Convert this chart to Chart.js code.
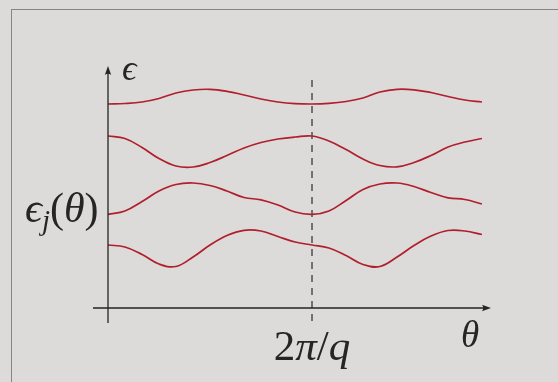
<!DOCTYPE html>
<html>
<head>
<meta charset="utf-8">
<script src="https://cdn.jsdelivr.net/npm/chart.js@4/dist/chart.umd.min.js"></script>
<style>
  html, body { margin: 0; padding: 0; background: #dcdbda; }
  canvas { display: block; }
</style>
</head>
<body>
<canvas id="bands" width="558" height="382"></canvas>
<script>
// Quasi-momentum theta, in units of the period 2π/q
const theta = [0, 0.083, 0.167, 0.25, 0.333, 0.417, 0.5, 0.583, 0.667, 0.75, 0.833, 0.917,
               1, 1.083, 1.167, 1.25, 1.333, 1.417, 1.5, 1.583, 1.667, 1.75, 1.833];

// Band energies epsilon_j(theta), arbitrary units (0 on the theta axis)
const band4 = [20.4, 20.45, 20.6, 20.95, 21.5, 21.8, 21.87, 21.67, 21.3, 20.9, 20.6, 20.44,
               20.4, 20.46, 20.65, 21.0, 21.6, 21.87, 21.82, 21.55, 21.15, 20.8, 20.6];
const band3 = [17.2, 16.95, 16.05, 14.95, 14.2, 14.1, 14.55, 15.25, 16.0, 16.55, 16.9, 17.1,
               17.2, 16.7, 15.85, 14.9, 14.25, 14.12, 14.55, 15.25, 16.1, 16.6, 16.95];
const band2 = [9.37, 9.7, 10.65, 11.7, 12.35, 12.5, 12.25, 11.7, 11.05, 10.82, 10.3, 9.6,
               9.37, 9.7, 10.75, 11.85, 12.4, 12.5, 12.15, 11.55, 11.02, 10.85, 10.4];
const band1 = [6.3, 6.1, 5.35, 4.4, 4.15, 5.1, 6.3, 7.25, 7.77, 7.7, 7.15, 6.6,
               6.3, 6.0, 5.25, 4.35, 4.15, 5.1, 6.25, 7.2, 7.75, 7.7, 7.35];

const bands = [band4, band3, band2, band1];

// Axis labels and the single marked theta value
const periodTick = 1;
const periodLabel = [['2', 'up'], ['π', 'it'], ['/', 'up'], ['q', 'it']];
const thetaLabel = 'θ';
const epsLabel = 'ϵ';

const BG = '#dcdbda';
const INK = '#252525';
const BAND_COLOR = '#b01f2b';

const SERIF = '"Liberation Serif", "DejaVu Serif", serif';

function drawRuns(ctx, runs, x, y, align) {
  // runs: [text, style, size, dy]
  let total = 0;
  runs.forEach(r => {
    ctx.font = (r[1] === 'it' ? 'italic ' : '') + r[2] + 'px ' + SERIF;
    total += ctx.measureText(r[0]).width;
  });
  let cx = align === 'center' ? x - total / 2 : x;
  runs.forEach(r => {
    ctx.font = (r[1] === 'it' ? 'italic ' : '') + r[2] + 'px ' + SERIF;
    ctx.fillText(r[0], cx, y + (r[3] || 0));
    cx += ctx.measureText(r[0]).width;
  });
}

function arrowHead(ctx, tipX, tipY, dir) {
  // dir: 'up' or 'right'
  const L = 9, W = 3.2;
  ctx.beginPath();
  if (dir === 'up') {
    ctx.moveTo(tipX, tipY);
    ctx.lineTo(tipX - W, tipY + L);
    ctx.quadraticCurveTo(tipX, tipY + L - 2.5, tipX + W, tipY + L);
  } else {
    ctx.moveTo(tipX, tipY);
    ctx.lineTo(tipX - L, tipY - W);
    ctx.quadraticCurveTo(tipX - L + 2.5, tipY, tipX - L, tipY + W);
  }
  ctx.closePath();
  ctx.fill();
}

const framePlugin = {
  id: 'frame',
  beforeDraw(chart) {
    const ctx = chart.ctx;
    ctx.save();
    ctx.fillStyle = BG;
    ctx.fillRect(0, 0, chart.width, chart.height);
    ctx.strokeStyle = '#858585';
    ctx.lineWidth = 1;
    ctx.strokeRect(11.5, 9.5, chart.width + 20, chart.height + 20);
    ctx.restore();
  },
  beforeDatasetsDraw(chart) {
    const ctx = chart.ctx, xs = chart.scales.x, ys = chart.scales.y;
    const px = Math.round(xs.getPixelForValue(periodTick));
    ctx.save();
    ctx.strokeStyle = '#3a3a3a';
    ctx.lineWidth = 1.3;
    ctx.setLineDash([7, 6]);
    ctx.beginPath();
    ctx.moveTo(px, ys.getPixelForValue(22.8));
    ctx.lineTo(px, chart.chartArea.bottom);
    ctx.stroke();
    ctx.restore();
  },
  afterDatasetsDraw(chart) {
    const ctx = chart.ctx, xs = chart.scales.x, ys = chart.scales.y;
    const a = chart.chartArea;
    const x0 = Math.round(xs.getPixelForValue(0));
    const y0 = Math.round(ys.getPixelForValue(0));
    ctx.save();
    ctx.strokeStyle = INK;
    ctx.fillStyle = INK;
    ctx.lineWidth = 1.3;
    ctx.beginPath();
    ctx.moveTo(x0, a.bottom);
    ctx.lineTo(x0, a.top + 4);
    ctx.moveTo(a.left, y0);
    ctx.lineTo(a.right - 4, y0);
    ctx.stroke();
    arrowHead(ctx, x0, a.top, 'up');
    arrowHead(ctx, a.right, y0, 'right');

    ctx.textBaseline = 'alphabetic';
    // epsilon at the top of the energy axis
    drawRuns(ctx, [[epsLabel, 'it', 36, 0]], x0 + 14, a.top + 14, 'left');
    // epsilon_j(theta) to the left of the axis
    drawRuns(ctx, [[epsLabel, 'it', 42, 0], ['j', 'it', 29, 8], ['(', 'up', 42, 0],
                   [thetaLabel, 'it', 42, 0], [')', 'up', 42, 0]], 25, 222, 'left');
    // tick label under the dashed line
    drawRuns(ctx, periodLabel.map(p => [p[0], p[1], 43, 0]),
             xs.getPixelForValue(periodTick), 360, 'center');
    // theta axis label
    drawRuns(ctx, [[thetaLabel, 'it', 37, 0]], a.right - 21, 347, 'center');
    ctx.restore();
  }
};

new Chart(document.getElementById('bands'), {
  type: 'line',
  data: {
    datasets: bands.map(b => ({
      data: theta.map((t, i) => ({ x: t, y: b[i] })),
      borderColor: BAND_COLOR,
      borderWidth: 1.7,
      pointRadius: 0,
      tension: 0.4,
      fill: false
    }))
  },
  options: {
    responsive: false,
    devicePixelRatio: 1,
    animation: false,
    layout: { padding: { left: 93, right: 67, top: 66, bottom: 59 } },
    plugins: { legend: { display: false }, tooltip: { enabled: false } },
    scales: {
      x: { type: 'linear', min: -0.0735, max: 1.8775, display: false },
      y: { type: 'linear', min: -1.5, max: 24.2, display: false }
    }
  },
  plugins: [framePlugin]
});
</script>
</body>
</html>
